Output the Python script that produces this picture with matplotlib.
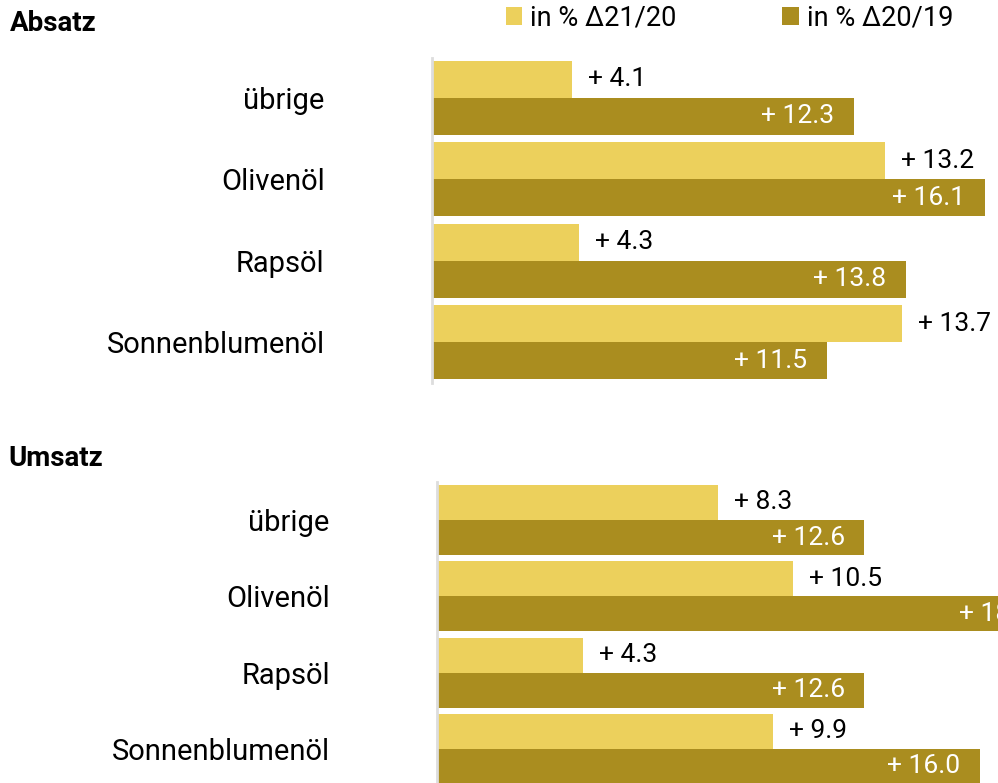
import numpy as np
import matplotlib
matplotlib.use("Agg")
import matplotlib.pyplot as plt

plt.rcParams['font.family'] = ['Roboto', 'DejaVu Sans']

categories = ['übrige', 'Olivenöl', 'Rapsöl', 'Sonnenblumenöl']
series_names = ['in % Δ21/20', 'in % Δ20/19']

absatz_21_20 = [4.1, 13.2, 4.3, 13.7]
absatz_20_19 = [12.3, 16.1, 13.8, 11.5]
umsatz_21_20 = [8.3, 10.5, 4.3, 9.9]
umsatz_20_19 = [12.6, 18.1, 12.6, 16.0]

light = '#ECD05C'
dark = '#AA8D1F'
W, H = 998, 783


def px_axes(fig, left, top, right, bottom):
    return fig.add_axes([left / W, 1 - bottom / H, (right - left) / W, (bottom - top) / H])


def panel(ax, v1, v2, h, xmax, ylim):
    y = np.arange(len(categories))
    b1 = ax.barh(y - h / 2, v1, height=h, color=light)
    b2 = ax.barh(y + h / 2, v2, height=h, color=dark)
    for yy, v in zip(y, v1):
        ax.annotate('+ %.1f' % v, (v, yy - h / 2), xytext=(11.5, 0), textcoords='offset points',
                    ha='left', va='center', fontsize=19, color='black', annotation_clip=False)
    for yy, v in zip(y, v2):
        ax.annotate('+ %.1f' % v, (v, yy + h / 2), xytext=(-14, 0), textcoords='offset points',
                    ha='right', va='center', fontsize=19, color='white', annotation_clip=False)
    ax.set_xlim(0, xmax)
    ax.set_ylim(*ylim)
    ax.set_yticks(y)
    ax.set_yticklabels(categories, fontsize=21)
    ax.tick_params(axis='y', length=0, pad=77)
    ax.set_xticks([])
    for s in ['top', 'right', 'bottom']:
        ax.spines[s].set_visible(False)
    ax.spines['left'].set_color('#DDDDDD')
    ax.spines['left'].set_linewidth(2)
    return b1, b2


fig = plt.figure(figsize=(W / 100, H / 100), dpi=100)

ax1 = px_axes(fig, 431.5, 58, W, 383)
b1, b2 = panel(ax1, absatz_21_20, absatz_20_19, 0.454, (W - 431.5) / 34.35, (3.5, -0.487))

ax2 = px_axes(fig, 436.7, 482, W, H)
panel(ax2, umsatz_21_20, umsatz_20_19, 0.459, (W - 436.7) / 33.95, (3.446, -0.498))

fig.text(10 / W, 1 - 30.7 / H, 'Absatz', fontsize=20, fontweight='bold', va='baseline')
fig.text(8 / W, 1 - 466 / H, 'Umsatz', fontsize=20, fontweight='bold', va='baseline')

fig.legend([b1, b2], series_names, ncol=2, loc='upper left',
           bbox_to_anchor=(506 / W, 1 - 4.5 / H), frameon=False, fontsize=19.5,
           handlelength=0.6, handleheight=0.6, handletextpad=0.3,
           columnspacing=3.9, borderpad=0, borderaxespad=0)

fig.savefig('out.png', dpi=100)
